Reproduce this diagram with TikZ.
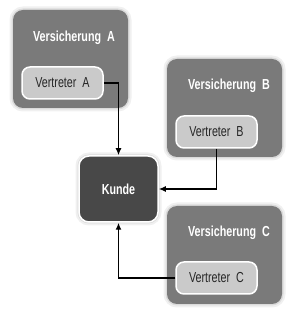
\documentclass[tikz,border=0pt]{standalone}
\usepackage{fontspec}
\setsansfont{Liberation Sans}[FakeStretch=0.74]
\usetikzlibrary{arrows.meta, positioning}
\definecolor{firma}{RGB}{122,122,122}
\definecolor{agent}{RGB}{202,202,202}
\definecolor{kundec}{RGB}{72,72,72}

\begin{document}
\begin{tikzpicture}[
		x=1pt, y=1pt,
		glow/.style={preaction={draw=black!6, line width=7pt}, preaction={draw=black!14, line width=3pt}},
		firmbox/.style={glow, fill=firma, rounded corners=10pt, minimum width=115pt, minimum height=98pt},
		agentbox/.style={draw=white, line width=1.5pt, fill=agent, rounded corners=8pt, minimum width=81pt, minimum height=32pt,
			font=\sffamily\fontsize{14.5}{16}\selectfont, text=black!85},
		title/.style={font=\sffamily\bfseries\fontsize{14.5}{16}\selectfont, text=white},
		arr/.style={-{Latex[length=7pt, width=6pt]}, line width=1.5pt}
	]
		\useasboundingbox (0,0) rectangle (295,313);
		% Versicherungen
		\node[firmbox] (vsA) at (70.5,254) {};
		\node[firmbox] (vsB) at (224.5,205) {};
		\node[firmbox] (vsC) at (224.5,58) {};
		\node[title] (tA) at (74,275) {Versicherung~~A};
		\node[title] (tB) at (229,227) {Versicherung~~B};
		\node[title] (tC) at (229,80) {Versicherung~~C};
		% Vertreter
		\node[agentbox] (vA) at (62.5,230) {Vertreter~~A};
		\node[agentbox] (vB) at (216.5,181) {Vertreter~~B};
		\node[agentbox] (vC) at (216.5,35) {Vertreter~~C};
		% Kunde
		\node[glow, draw=white, line width=1.5pt, fill=kundec, rounded corners=10pt, minimum width=79pt, minimum height=66pt, title] (kunde) at (118.5,124) {Kunde};
		\draw[arr] (vA.east) -| (kunde.north);
		\draw[arr] (vB.south) |- (kunde.east);
		\draw[arr] (vC.west) -| (kunde.south);
	\end{tikzpicture}
\end{document}
